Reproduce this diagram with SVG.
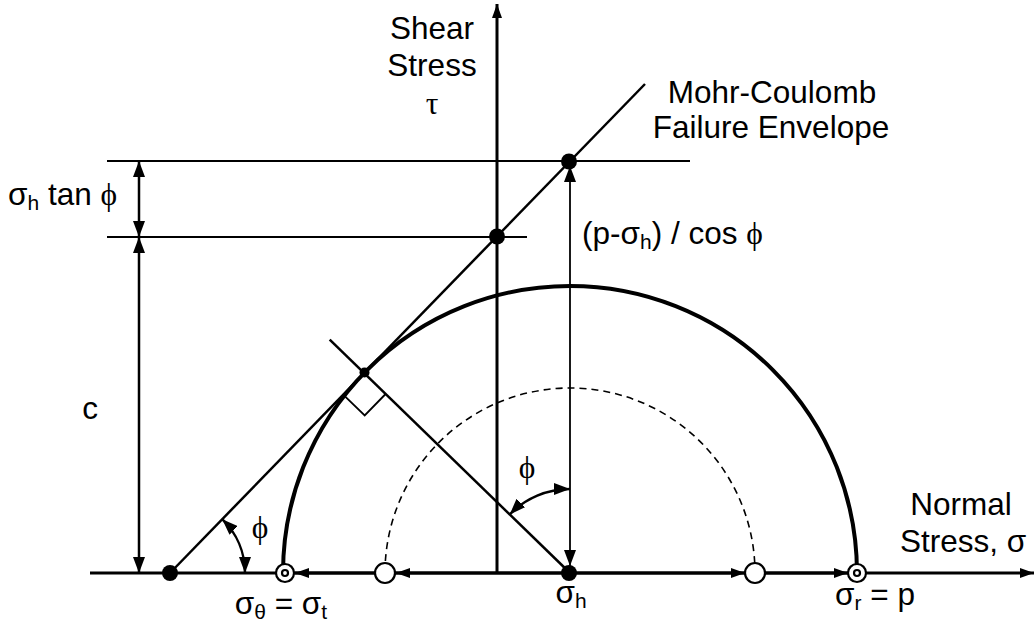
<svg xmlns="http://www.w3.org/2000/svg" width="1036" height="627" viewBox="0 0 1036 627">
<defs>
<style>
.ln{stroke:#000;fill:none;stroke-linecap:butt}
.axis{stroke-width:3}
.thin{stroke-width:1.8}
.med{stroke-width:2.5}
.t{font-family:"Liberation Sans",Arial,sans-serif;font-size:31.5px;fill:#000}
.g{font-family:"Liberation Serif","Times New Roman",serif;font-size:31.5px;fill:#000}
.sub{font-size:21px}
.dot{fill:#000}
.hol{fill:#fff;stroke:#000;stroke-width:2.2}
</style>
<marker id="ah" viewBox="0 0 16 12" refX="16" refY="6" markerWidth="16" markerHeight="12" markerUnits="userSpaceOnUse" orient="auto-start-reverse"><path d="M0,0 L16,6 L0,12 Z" fill="#000"/></marker>
<marker id="as" viewBox="0 0 14 10" refX="14" refY="5" markerWidth="14" markerHeight="10" markerUnits="userSpaceOnUse" orient="auto-start-reverse"><path d="M0,0 L14,5 L0,10 Z" fill="#000"/></marker>
</defs>
<rect width="1036" height="627" fill="#fff"/>
<g id="connectors">
<line class="ln axis" x1="90" y1="573" x2="1034" y2="573" marker-end="url(#as)"/>
<line class="ln axis" x1="497" y1="573" x2="497" y2="4" marker-end="url(#as)"/>
<line class="ln axis" x1="570" y1="573" x2="396" y2="573" marker-end="url(#as)"/>
<line class="ln axis" x1="385" y1="573" x2="295" y2="573" marker-end="url(#as)"/>
<line class="ln axis" x1="570" y1="573" x2="745" y2="573" marker-end="url(#as)"/>
<line class="ln axis" x1="755" y1="573" x2="848" y2="573" marker-end="url(#as)"/>
<line class="ln thin" x1="107" y1="161" x2="690" y2="161"/>
<line class="ln thin" x1="107" y1="237" x2="527" y2="237"/>
<line class="ln med" x1="170" y1="573" x2="645" y2="84"/>
<path class="ln" stroke-width="4" d="M283,573 A287,287 0 0 1 857,573"/>
<path class="ln" stroke-width="1.6" stroke-dasharray="7,5" d="M385,573 A185,185 0 0 1 755,573"/>
<line class="ln med" x1="570" y1="573" x2="329.7" y2="339.7"/>
<path class="ln thin" d="M343.2,394.6 L364.7,415.5 L385.6,394.0"/>
<line class="ln med" x1="139" y1="161" x2="139" y2="237" marker-start="url(#ah)" marker-end="url(#ah)"/>
<line class="ln med" x1="139" y1="237" x2="139" y2="573" marker-start="url(#ah)" marker-end="url(#ah)"/>
<line class="ln thin" x1="570" y1="166" x2="570" y2="566" marker-start="url(#ah)" marker-end="url(#ah)"/>
<path class="ln med" d="M245,573 A75,75 0 0 0 222.2,519.2" marker-start="url(#ah)" marker-end="url(#ah)"/>
<path class="ln med" d="M509.7,514.5 A84,84 0 0 1 570,489" marker-start="url(#ah)" marker-end="url(#ah)"/>
</g>
<g id="pt-intercept"><circle class="dot" cx="170" cy="573" r="8"/></g>
<g id="pt-c"><circle class="dot" cx="497" cy="236.5" r="8"/></g>
<g id="pt-top"><circle class="dot" cx="569" cy="161.5" r="8"/></g>
<g id="pt-tangent"><circle class="dot" cx="364.5" cy="372.5" r="5"/></g>
<g id="pt-sigma-h"><circle class="dot" cx="569" cy="573" r="8"/>
<text class="t" x="571" y="603" text-anchor="middle">σ<tspan class="sub" dy="5">h</tspan></text></g>
<g id="pt-hollow-left"><circle class="hol" cx="385" cy="573" r="10"/></g>
<g id="pt-hollow-right"><circle class="hol" cx="755" cy="573" r="10"/></g>
<g id="pt-sigma-t"><circle class="hol" cx="285" cy="573" r="9"/><circle class="hol" stroke-width="1.6" cx="285" cy="573" r="3"/>
<text class="t" x="281" y="614" text-anchor="middle">σ<tspan class="sub" dy="5">θ</tspan><tspan dy="-5"> = σ</tspan><tspan class="sub" dy="5">t</tspan></text></g>
<g id="pt-sigma-r"><circle class="hol" cx="857" cy="573" r="9"/><circle class="hol" stroke-width="1.6" cx="857" cy="573" r="3"/>
<text class="t" x="875" y="605" text-anchor="middle">σ<tspan class="sub" dy="5">r</tspan><tspan dy="-5"> = p</tspan></text></g>
<g id="label-shear"><text class="t" x="432" y="39" text-anchor="middle">Shear</text><text class="t" x="432" y="76" text-anchor="middle">Stress</text><text class="g" x="432" y="114" text-anchor="middle">τ</text></g>
<g id="label-envelope"><text class="t" x="772" y="103" text-anchor="middle">Mohr-Coulomb</text><text class="t" x="771" y="138" text-anchor="middle">Failure Envelope</text></g>
<g id="label-normal"><text class="t" x="961" y="515" text-anchor="middle">Normal</text><text class="t" x="963" y="552" text-anchor="middle">Stress, σ</text></g>
<g id="label-tan"><text class="t" x="8" y="205">σ<tspan class="sub" dy="5">h</tspan><tspan dy="-5"> tan </tspan><tspan class="g">ϕ</tspan></text></g>
<g id="label-c"><text class="t" x="90" y="419" text-anchor="middle">c</text></g>
<g id="label-radius"><text class="t" x="582" y="244">(p-σ<tspan class="sub" dy="5">h</tspan><tspan dy="-5">) / cos </tspan><tspan class="g">ϕ</tspan></text></g>
<g id="label-phi1"><text class="g" x="527" y="478" text-anchor="middle">ϕ</text></g>
<g id="label-phi2"><text class="g" x="260" y="538" text-anchor="middle">ϕ</text></g>
</svg>
